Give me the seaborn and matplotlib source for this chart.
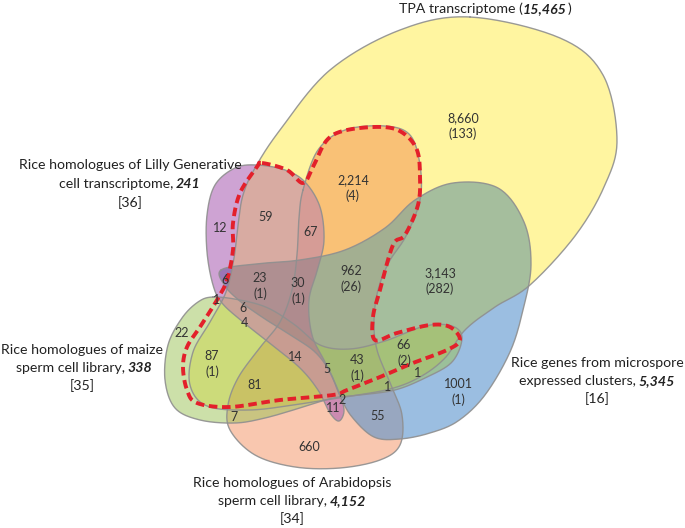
import numpy as np
import matplotlib
matplotlib.use("Agg")
import matplotlib.pyplot as plt
from matplotlib.patches import PathPatch
from matplotlib.path import Path
import seaborn as sns

sns.set_theme(style="white")
FONT = ["Lato", "DejaVu Sans"]
plt.rcParams["font.family"] = FONT

# ---------------- data ----------------
set_names = ["TPA transcriptome",
             "Rice homologues of Lilly Generative cell transcriptome",
             "Rice homologues of maize sperm cell library",
             "Rice genes from microspore expressed clusters",
             "Rice homologues of Arabidopsis sperm cell library"]
set_totals = ["15,465", "241", "338", "5,345", "4,152"]
set_refs = ["", "[36]", "[35]", "[16]", "[34]"]

region_counts = ["8,660", "2,214", "59", "12", "67", "6", "23", "30", "1", "6", "4",
                 "22", "87", "14", "5", "962", "3,143", "66", "43", "81", "1", "1",
                 "1001", "2", "11", "7", "55", "660"]
region_sub = ["133", "4", "", "", "", "", "1", "1", "", "", "",
              "", "1", "", "", "26", "282", "2", "1", "", "", "",
              "1", "", "", "", "", ""]

# layout (pixel positions of region labels)
region_xy = [(463, 118), (353, 180), (266, 217), (220, 228), (311, 232), (225, 280),
             (260, 278), (298, 283), (217, 300), (243, 308), (244, 323),
             (182, 333), (212, 356), (295, 357), (327, 369), (351, 271), (440, 273),
             (404, 345), (357, 360), (255, 385), (418, 373), (388, 387),
             (458, 384), (342, 400), (333, 408), (234, 417), (378, 416), (309, 447)]

# shape outlines (control points, pixel coordinates)
shape_pts = {
    "tpa": [(470, 17), (560, 38), (603, 75), (617, 140), (604, 187), (575, 236), (530, 285),
            (495, 307), (465, 330), (445, 358), (420, 377), (390, 389), (345, 397), (300, 404),
            (250, 410), (207, 406), (190, 385), (193, 352), (210, 322), (226, 292), (234, 258),
            (238, 225), (243, 195), (255, 168), (280, 130), (330, 70), (400, 30)],
    "micro": [(221, 270), (255, 264), (300, 260), (345, 250), (385, 228), (415, 200), (453, 183),
              (498, 188), (524, 222), (531, 265), (523, 310), (510, 352), (485, 395), (458, 421),
              (430, 433), (400, 439), (374, 437), (352, 417), (340, 396), (330, 372), (315, 352),
              (292, 336), (265, 319), (241, 302), (225, 286)],
    "arab": [(303, 190), (318, 150), (345, 130), (385, 126), (410, 135), (420, 165), (420, 200),
             (406, 236), (389, 262), (378, 290), (374, 320), (377, 350), (391, 385), (402, 415),
             (400, 445), (380, 460), (340, 468), (295, 467), (255, 455), (230, 430), (228, 405),
             (238, 378), (258, 350), (280, 322), (292, 290), (297, 255), (299, 218)],
    "maize": [(213, 297), (240, 300), (268, 308), (295, 325), (320, 345), (350, 349), (385, 341),
              (425, 326), (452, 326), (462, 338), (452, 362), (425, 378), (395, 390), (360, 395),
              (333, 398), (300, 408), (265, 418), (235, 423), (200, 420), (175, 408), (165, 380),
              (168, 345), (182, 318), (198, 302)],
    "lilly": [(257, 165), (285, 170), (305, 182), (320, 207), (324, 240), (318, 268), (309, 300),
              (312, 335), (325, 362), (338, 390), (344, 410), (339, 421), (330, 413), (318, 390),
              (300, 368), (272, 345), (243, 322), (222, 303), (213, 285), (207, 252), (207, 215),
              (215, 185), (235, 168)],
}
shape_colors = {"tpa": "#fff48f", "micro": "#5893cd", "arab": "#f27537",
                "maize": "#9bc355", "lilly": "#ac61b4"}
shape_alpha = {"tpa": 0.85, "micro": 0.6, "arab": 0.4, "maize": 0.5, "lilly": 0.58}
draw_order = ["tpa", "arab", "micro", "maize", "lilly"]

red_pts = [(262, 163), (287, 170), (303, 183), (313, 167), (327, 140), (347, 130), (383, 127),
           (403, 133), (417, 150), (420, 177), (418, 205), (405, 235), (393, 245), (380, 290),
           (373, 317), (375, 340), (397, 333), (430, 325), (450, 327), (460, 340), (447, 350),
           (413, 363), (380, 377), (347, 390), (333, 395), (280, 400), (230, 407), (197, 403),
           (187, 390), (183, 367), (187, 347), (200, 327), (217, 300), (227, 280), (233, 250),
           (233, 223), (240, 193), (257, 167)]


def closed_spline(pts, n=20):
    p = np.asarray(pts, float)
    m = len(p)
    out = []
    for i in range(m):
        p0, p1, p2, p3 = p[(i - 1) % m], p[i], p[(i + 1) % m], p[(i + 2) % m]
        t = np.linspace(0, 1, n, endpoint=False)[:, None]
        seg = 0.5 * ((2 * p1) + (-p0 + p2) * t + (2 * p0 - 5 * p1 + 4 * p2 - p3) * t ** 2
                     + (-p0 + 3 * p1 - 3 * p2 + p3) * t ** 3)
        out.append(seg)
    out = np.vstack(out)
    return np.vstack([out, out[:1]])


fig = plt.figure(figsize=(6.85, 5.28), dpi=100)
ax = fig.add_axes([0, 0, 1, 1])
ax.set_xlim(0, 685)
ax.set_ylim(528, 0)
ax.axis("off")

patches = {}
for key in draw_order:
    c = closed_spline(shape_pts[key])
    p = PathPatch(Path(c), facecolor=shape_colors[key], alpha=shape_alpha[key],
                  edgecolor="none", zorder=1)
    ax.add_patch(p)
    patches[key] = p


def add_tint(shape, clip_key, color, alpha):
    t = PathPatch(Path(closed_spline(shape_pts[shape])), facecolor=color, alpha=alpha,
                  edgecolor="none", zorder=1)
    ax.add_patch(t)
    t.set_clip_path(patches[clip_key])


# tints that mimic multiply blending of overlapping sets
add_tint("micro", "tpa", "#bec85a", 0.3)
add_tint("lilly", "tpa", "#f0c890", 0.3)
add_tint("lilly", "micro", "#7a3a80", 0.22)

for key in draw_order:
    c = closed_spline(shape_pts[key])
    ax.plot(c[:, 0], c[:, 1], color="#8f8f8f", lw=1.0, alpha=0.9, zorder=2)

rc = closed_spline(red_pts)
ax.plot(rc[:, 0], rc[:, 1], color="#e3202b", lw=2.8, ls=(0, (2.2, 1.2)), zorder=3)

NUM_SIZE = 9.0
for lab, sub, (x, y) in zip(region_counts, region_sub, region_xy):
    ax.text(x, y, lab, ha="center", va="center", fontsize=NUM_SIZE, color="#333333", zorder=5)
    if sub:
        ax.text(x, y + 16, f"({sub})", ha="center", va="center", fontsize=NUM_SIZE,
                color="#333333", zorder=5)

renderer = fig.canvas.get_renderer()
LAB_SIZE = 10.2


def rich_line(x, y, parts):
    texts, widths, gaps = [], [], []
    for s, bold, gap in parts:
        t = ax.text(0, y, s, fontsize=LAB_SIZE, ha="left", va="center", color="#222222",
                    fontweight="bold" if bold else "normal",
                    fontstyle="italic" if bold else "normal", zorder=6)
        texts.append(t)
        widths.append(t.get_window_extent(renderer).width)
        gaps.append(gap)
    total = sum(widths) + sum(gaps[:-1])
    x0 = x - total / 2
    for t, w, g in zip(texts, widths, gaps):
        t.set_x(x0)
        x0 += w + g


# TPA title
rich_line(485, 9, [(set_names[0] + " (", False, 0.5), (set_totals[0], True, 0.5), (")", False, 0)])
# Lilly
rich_line(130, 165, [("Rice homologues of Lilly Generative", False, 0)])
rich_line(130, 184, [("cell transcriptome,", False, 2.5), (set_totals[1], True, 0)])
rich_line(130, 203, [(set_refs[1], False, 0)])
# maize
rich_line(82, 350, [("Rice homologues of maize", False, 0)])
rich_line(84, 368, [("sperm cell library,", False, 2.5), (set_totals[2], True, 0)])
rich_line(82, 386, [(set_refs[2], False, 0)])
# microspore
rich_line(597, 363, [("Rice genes from microspore", False, 0)])
rich_line(597, 381, [("expressed clusters,", False, 2.5), (set_totals[3], True, 0)])
rich_line(597, 399, [(set_refs[3], False, 0)])
# arabidopsis
rich_line(292, 483, [("Rice homologues of Arabidopsis", False, 0)])
rich_line(292, 501, [("sperm cell library,", False, 2.5), (set_totals[4], True, 0)])
rich_line(292, 519, [(set_refs[4], False, 0)])

fig.savefig("out.png", dpi=100)
